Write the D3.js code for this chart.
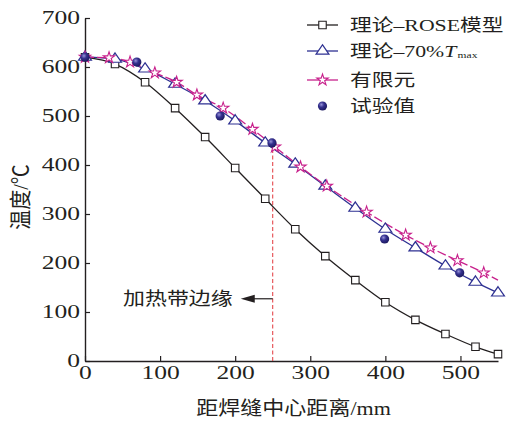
<!DOCTYPE html>
<html>
<head>
<meta charset="utf-8">
<script src="https://cdn.jsdelivr.net/npm/d3@7"></script>
<style>
  body { margin: 0; background: #fff; }
  text { font-family: "Liberation Serif", "Noto Sans CJK SC", serif; fill: #231f20; }
</style>
</head>
<body>
<script>
//Data
    const xRose = [0, 40, 80, 120, 160, 200, 240, 280, 320, 360, 400, 440, 480, 520, 550];
    const tRose = [620, 606, 569, 516, 457, 394, 331, 269, 214, 165, 120, 84, 55, 29, 14];
    const t70   = [620, 616, 596, 565, 531, 490, 445, 402, 357, 312, 269, 231, 194, 161, 139];
    const xFem  = [0, 32, 60, 93, 122, 149, 184, 223, 253, 287, 322, 375, 427, 460, 496, 531, 550];
    const tFem  = [620, 619, 610, 588, 569, 543, 516, 473, 437, 396, 357, 304, 257, 231, 205, 180, 165];
    const xExp  = [0, 69, 180, 249, 399, 499];
    const tExp  = [620, 610, 500, 445, 249, 180];
    const xTicks = [0, 100, 200, 300, 400, 500];
    const yTicks = [0, 100, 200, 300, 400, 500, 600, 700];
    const edgeX = 250, edgeTop = 440, arrowT = 127;

//Consts
    const width = 509, height = 421;
    const margin = {left: 85, right: 11, top: 18, bottom: 60};
    const black = "#231f20", blue = "#2e3192", magenta = "#c8218c", red = "#e2363c";

    const svg = d3.select("body").append("svg")
        .attr("width", width)
        .attr("height", height);

    const defs = svg.append("defs");
    const grad = defs.append("radialGradient").attr("id", "ball")
        .attr("cx", "38%").attr("cy", "35%").attr("r", "65%");
    grad.append("stop").attr("offset", "0%").attr("stop-color", "#9692d8");
    grad.append("stop").attr("offset", "45%").attr("stop-color", "#35318f");
    grad.append("stop").attr("offset", "100%").attr("stop-color", "#1c1960");

//Scales
    const xScale = d3.scaleLinear()
        .domain([0, 550])
        .range([margin.left, width - margin.right]);
    const yScale = d3.scaleLinear()
        .domain([0, 700])
        .range([height - margin.bottom, margin.top]);

//Axes
    const tickFont = 18, tickStretch = 1.42;
    const gx = svg.append("g")
        .attr("transform", "translate(0," + (height - margin.bottom) + ")")
        .call(d3.axisBottom(xScale).tickValues(xTicks).tickSizeInner(-5).tickSizeOuter(0).tickPadding(5));
    const gy = svg.append("g")
        .attr("transform", "translate(" + margin.left + ",0)")
        .call(d3.axisLeft(yScale).tickValues(yTicks).tickSizeInner(-5).tickSizeOuter(0).tickPadding(5));
    [gx, gy].forEach(g => {
        g.select(".domain").attr("stroke", black).attr("stroke-width", 1.4);
        g.selectAll(".tick line").attr("stroke", black).attr("stroke-width", 1.2);
        g.selectAll("text")
            .attr("font-size", tickFont)
            .attr("font-family", "Liberation Serif")
            .attr("fill", black);
    });
    gy.selectAll("text").attr("x", -5 / tickStretch).attr("transform", "scale(" + tickStretch + ",1)");
    gx.selectAll("text").attr("transform", "scale(" + tickStretch + ",1)");

//Helper for stretched text
    function label(x, y, str, size, sx, anchor) {
        return svg.append("text")
            .attr("transform", "translate(" + x + "," + y + ") scale(" + sx + ",1)")
            .attr("font-size", size)
            .attr("text-anchor", anchor || "start")
            .attr("dominant-baseline", "central")
            .text(str);
    }

    label((xScale(0) + xScale(550)) / 2 + 2, 409, "距焊缝中心距离/mm", 19, 1.16, "middle");
    svg.append("text")
        .attr("transform", "translate(21,197) scale(1.1,1) rotate(-90)")
        .attr("font-size", 20)
        .attr("text-anchor", "middle")
        .attr("dominant-baseline", "central")
        .text("温度/℃");

//Heating edge annotation
    svg.append("line")
        .attr("x1", xScale(edgeX)).attr("x2", xScale(edgeX))
        .attr("y1", yScale(0)).attr("y2", yScale(edgeTop))
        .attr("stroke", red).attr("stroke-width", 1)
        .attr("stroke-dasharray", "4,2.5");
    const ay = yScale(arrowT);
    svg.append("line")
        .attr("x1", xScale(edgeX)).attr("x2", xScale(edgeX) - 20)
        .attr("y1", ay).attr("y2", ay)
        .attr("stroke", black).attr("stroke-width", 1.2);
    const tip = xScale(edgeX) - 32;
    svg.append("path")
        .attr("d", `M${tip},${ay}L${tip + 14},${ay - 4}L${tip + 14},${ay + 4}Z`)
        .attr("fill", black);
    label(tip - 8, ay, "加热带边缘", 18, 1.22, "end");

//Lines
    const line = d3.line().x(d => xScale(d[0])).y(d => yScale(d[1])).curve(d3.curveMonotoneX);
    const rose = xRose.map((x, i) => [x, tRose[i]]);
    const s70 = xRose.map((x, i) => [x, t70[i]]);
    const fem = xFem.map((x, i) => [x, tFem[i]]);
    const exp = xExp.map((x, i) => [x, tExp[i]]);

    svg.append("path").datum(rose).attr("d", line)
        .attr("fill", "none").attr("stroke", black).attr("stroke-width", 1.3);
    svg.append("path").datum(s70).attr("d", line)
        .attr("fill", "none").attr("stroke", blue).attr("stroke-width", 1.3);
    svg.append("path").datum(fem).attr("d", line)
        .attr("fill", "none").attr("stroke", magenta).attr("stroke-width", 1.3)
        .attr("stroke-dasharray", "9,3");

//Markers
    const sq = d3.symbol().type(d3.symbolSquare).size(56);
    const tri = d3.symbol().type(d3.symbolTriangle).size(50);
    const star = d3.symbol().type(d3.symbolStar).size(40);

    svg.selectAll(".sq").data(rose).enter().append("path")
        .attr("d", sq)
        .attr("transform", d => "translate(" + xScale(d[0]) + "," + yScale(d[1]) + ")")
        .attr("fill", "#fff").attr("stroke", black).attr("stroke-width", 1.1);
    svg.selectAll(".tri").data(s70).enter().append("path")
        .attr("d", tri)
        .attr("transform", d => "translate(" + xScale(d[0]) + "," + yScale(d[1]) + ") scale(1.2,1)")
        .attr("fill", "#fff").attr("stroke", blue).attr("stroke-width", 1.1);
    svg.selectAll(".star").data(fem.filter(d => d[0] < 550)).enter().append("path")
        .attr("d", star)
        .attr("transform", d => "translate(" + xScale(d[0]) + "," + yScale(d[1]) + ")")
        .attr("fill", "#fff").attr("stroke", magenta).attr("stroke-width", 1.1);
    svg.selectAll(".ball").data(exp).enter().append("circle")
        .attr("cx", d => xScale(d[0])).attr("cy", d => yScale(d[1]))
        .attr("r", 4.6)
        .attr("fill", "url(#ball)");

//Legend
    const legX = 307, legTextX = 350, legFont = 17, legStretch = 1.28;
    const rows = [25, 51, 80, 106];
    const legend = svg.append("g");
    [[black, sq, null], [blue, tri, null], [magenta, star, "9,3"]].forEach((r, i) => {
        legend.append("line")
            .attr("x1", legX).attr("x2", legX + 31)
            .attr("y1", rows[i]).attr("y2", rows[i])
            .attr("stroke", r[0]).attr("stroke-width", 1.3);
        legend.append("path")
            .attr("d", r[1])
            .attr("transform", "translate(" + (legX + 15.5) + "," + rows[i] + ")" + (i === 1 ? " scale(1.2,1)" : ""))
            .attr("fill", "#fff").attr("stroke", r[0]).attr("stroke-width", 1.1);
    });
    legend.append("circle")
        .attr("cx", legX + 15.5).attr("cy", rows[3]).attr("r", 4.6)
        .attr("fill", "url(#ball)");

    label(legTextX, rows[0], "理论–ROSE模型", legFont, legStretch);
    const t2 = label(legTextX, rows[1], "理论–70%", legFont, legStretch);
    t2.append("tspan").attr("font-style", "italic").text("T");
    t2.append("tspan").attr("font-size", 9).attr("dy", 4).attr("dx", 1).text("max");
    label(legTextX, rows[2], "有限元", legFont, legStretch);
    label(legTextX, rows[3], "试验值", legFont, legStretch);
</script>
</body>
</html>
